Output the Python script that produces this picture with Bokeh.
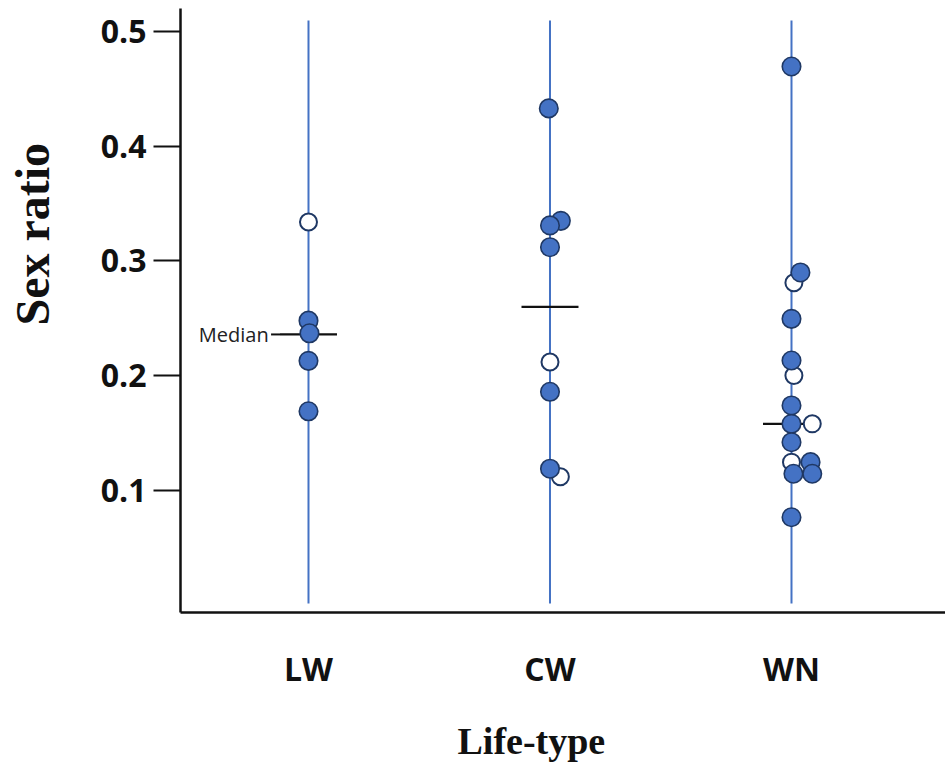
from bokeh.plotting import figure
from bokeh.models import FixedTicker, Range1d, Label, Title
from bokeh.embed import file_html
from bokeh.resources import INLINE

# ---- data ----
categories = ["LW", "CW", "WN"]
group_pos = [1, 2, 3]

# sex ratio values per point, dodge (data units, sideways offset seen in picture), filled?
lw_values = [0.334, 0.248, 0.237, 0.213, 0.169]
lw_dodge = [0.0, 0.0, 0.004, 0.0, 0.0]
lw_filled = [False, True, True, True, True]

cw_values = [0.433, 0.335, 0.331, 0.312, 0.212, 0.186, 0.119, 0.112]
cw_dodge = [-0.005, 0.045, 0.0, 0.0, 0.0, 0.0, 0.0, 0.043]
cw_filled = [True, True, True, True, False, True, True, False]

wn_values = [0.4695, 0.290, 0.281, 0.2496, 0.2133, 0.2002, 0.1741, 0.1581, 0.1581,
             0.1421, 0.1247, 0.1247, 0.1146, 0.1146, 0.0767]
wn_dodge = [0.0, 0.037, 0.01, 0.0, 0.0, 0.01, 0.0, 0.0, 0.086,
            0.0, 0.0, 0.079, 0.008, 0.086, 0.0]
wn_filled = [True, True, False, True, True, False, True, True, False,
             True, False, True, True, True, True]

medians = [0.236, 0.260, 0.158]
y_ticks = [0.1, 0.2, 0.3, 0.4, 0.5]

# ---- styling constants ----
BLUE = "#4472C4"
EDGE = "#1F3864"
LINE_LO, LINE_HI = 0.0015, 0.5096
MED_HALF = 0.118
FW, FH = 765, 604

p = figure(frame_width=FW, frame_height=FH, output_backend="svg", toolbar_location=None,
           min_border_left=180, min_border_right=0, min_border_top=8, min_border_bottom=151,
           x_range=Range1d(0.47, 0.47 + FW / 241.5), y_range=Range1d(-0.00632, 0.52004))
p.outline_line_color = None
p.grid.visible = False
p.background_fill_color = "white"
p.border_fill_color = "white"

# vertical lines
p.segment(x0=group_pos, y0=[LINE_LO] * 3, x1=group_pos, y1=[LINE_HI] * 3,
          line_color=BLUE, line_width=2)

# median lines
p.segment(x0=[g - MED_HALF for g in group_pos], y0=medians,
          x1=[g + MED_HALF for g in group_pos], y1=medians,
          line_color="#111111", line_width=2.2)
# leader for median label
p.segment(x0=[0.845], y0=[medians[0]], x1=[1 - MED_HALF], y1=[medians[0]],
          line_color="#111111", line_width=2)
p.add_layout(Label(x=0.835, y=medians[0], text="Median", text_align="right",
                   text_baseline="middle", text_font="Open Sans",
                   text_font_size="20px", text_color="#222222"))

groups = [(1, lw_values, lw_dodge, lw_filled),
          (2, cw_values, cw_dodge, cw_filled),
          (3, wn_values, wn_dodge, wn_filled)]
hx, hy, fx, fy = [], [], [], []
for g, vals, dod, fil in groups:
    for v, d, f in zip(vals, dod, fil):
        if f:
            fx.append(g + d); fy.append(v)
        else:
            hx.append(g + d); hy.append(v)

p.scatter(hx, hy, size=17, fill_color="white", line_color=EDGE, line_width=2)
p.scatter(fx, fy, size=18.5, fill_color=BLUE, line_color=EDGE, line_width=1.6)

# axes
xa = p.xaxis[0]
xa.ticker = FixedTicker(ticks=group_pos)
xa.major_label_overrides = {g: c for g, c in zip(group_pos, categories)}
xa.major_tick_out = 0
xa.major_tick_in = 0
xa.minor_tick_out = 0
xa.minor_tick_in = 0
xa.axis_line_width = 2.5
xa.axis_line_color = "#111111"
xa.major_label_text_font = "Open Sans"
xa.major_label_text_font_style = "bold"
xa.major_label_text_font_size = "32px"
xa.major_label_text_color = "#111111"
xa.major_label_standoff = 34

ya = p.yaxis[0]
ya.ticker = FixedTicker(ticks=y_ticks)
ya.major_tick_out = 27
ya.major_tick_in = 0
ya.minor_tick_out = 0
ya.minor_tick_in = 0
ya.major_tick_line_width = 2
ya.major_tick_line_color = "#111111"
ya.axis_line_width = 2.5
ya.axis_line_color = "#111111"
ya.major_label_text_font = "Open Sans"
ya.major_label_text_font_style = "bold"
ya.major_label_text_font_size = "32px"
ya.major_label_text_color = "#111111"
ya.major_label_standoff = 7

# invisible spacers so the axis titles sit where the reference has them
p.add_layout(Title(text=" ", standoff=36, text_font_size="1px", text_color="white"), "left")
p.add_layout(Title(text=" ", standoff=22, text_font_size="1px", text_color="white"), "below")

# axis titles (off-centre, as in the reference)
p.add_layout(Title(text="Sex ratio", align="left", offset=287, standoff=0,
                   text_font="Liberation Serif", text_font_style="bold",
                   text_font_size="48px", text_color="#111111"), "left")
p.add_layout(Title(text="Life-type", align="left", offset=277, standoff=0,
                   text_font="Liberation Serif", text_font_style="bold",
                   text_font_size="38px", text_color="#111111"), "below")

open("out.html", "w").write(file_html(p, INLINE))
